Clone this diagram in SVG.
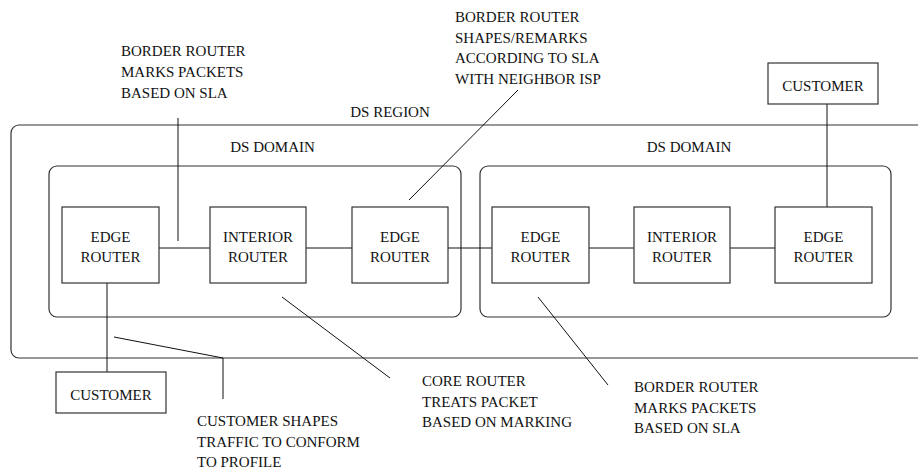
<svg xmlns="http://www.w3.org/2000/svg" width="918" height="470" viewBox="0 0 918 470" font-family="'Liberation Serif', 'Times New Roman', 'DejaVu Serif', serif">
<style>
  text { font-family: 'Liberation Serif', 'Times New Roman', 'DejaVu Serif', serif; font-size: 15px; fill: #111; }
  .c { text-anchor: middle; }
  .box { fill: #fff; stroke: #333; stroke-width: 1.2; }
  .region { fill: none; stroke: #333; stroke-width: 1.2; }
  .ln { fill: none; stroke: #111; stroke-width: 1; }
</style>
<rect width="918" height="470" fill="#fff"/>

<g id="ds-region">
  <rect class="region" x="11" y="125" width="930" height="233" rx="8" ry="8"/>
  <text class="c" x="390" y="117">DS REGION</text>
</g>
<g id="ds-domain-left">
  <rect class="region" x="49" y="166" width="412" height="151" rx="8" ry="8"/>
  <text class="c" x="272.5" y="152">DS DOMAIN</text>
</g>
<g id="ds-domain-right">
  <rect class="region" x="480" y="166" width="411" height="151" rx="8" ry="8"/>
  <text class="c" x="689" y="152">DS DOMAIN</text>
</g>

<g id="connectors">
  <line class="ln" x1="159" y1="248" x2="210" y2="248"/>
  <line class="ln" x1="306" y1="248" x2="352" y2="248"/>
  <line class="ln" x1="448" y1="248" x2="492" y2="248"/>
  <line class="ln" x1="589" y1="248" x2="634" y2="248"/>
  <line class="ln" x1="730" y1="248" x2="775" y2="248"/>
  <line class="ln" x1="827" y1="104" x2="827" y2="207"/>
  <line class="ln" x1="107" y1="283" x2="107" y2="372"/>
  <line class="ln" x1="178" y1="118" x2="178" y2="241"/>
  <line class="ln" x1="518" y1="90" x2="409" y2="200"/>
  <line class="ln" x1="282" y1="297" x2="390" y2="378"/>
  <line class="ln" x1="538" y1="297" x2="608" y2="385"/>
  <polyline class="ln" points="114,337 223,358 223,399"/>
</g>

<g id="edge-router-1">
  <rect class="box" x="62" y="207" width="97" height="76"/>
  <text class="c" x="110.5" y="242">EDGE</text>
  <text class="c" x="110.5" y="262">ROUTER</text>
</g>
<g id="interior-router-1">
  <rect class="box" x="210" y="207" width="96" height="76"/>
  <text class="c" x="258" y="242">INTERIOR</text>
  <text class="c" x="258" y="262">ROUTER</text>
</g>
<g id="edge-router-2">
  <rect class="box" x="352" y="207" width="96" height="76"/>
  <text class="c" x="400" y="242">EDGE</text>
  <text class="c" x="400" y="262">ROUTER</text>
</g>
<g id="edge-router-3">
  <rect class="box" x="492" y="207" width="97" height="76"/>
  <text class="c" x="540.5" y="242">EDGE</text>
  <text class="c" x="540.5" y="262">ROUTER</text>
</g>
<g id="interior-router-2">
  <rect class="box" x="634" y="207" width="96" height="76"/>
  <text class="c" x="682" y="242">INTERIOR</text>
  <text class="c" x="682" y="262">ROUTER</text>
</g>
<g id="edge-router-4">
  <rect class="box" x="775" y="207" width="97" height="76"/>
  <text class="c" x="823.5" y="242">EDGE</text>
  <text class="c" x="823.5" y="262">ROUTER</text>
</g>
<g id="customer-top">
  <rect class="box" x="768" y="63" width="110" height="41"/>
  <text class="c" x="823" y="91">CUSTOMER</text>
</g>
<g id="customer-bottom">
  <rect class="box" x="56" y="372" width="110" height="41"/>
  <text class="c" x="111" y="400">CUSTOMER</text>
</g>

<g id="label-border-left">
  <text x="121" y="56">BORDER ROUTER</text>
  <text x="121" y="77">MARKS PACKETS</text>
  <text x="121" y="97.5">BASED ON SLA</text>
</g>
<g id="label-border-neighbor">
  <text x="455" y="22">BORDER ROUTER</text>
  <text x="455" y="42.5">SHAPES/REMARKS</text>
  <text x="455" y="63">ACCORDING TO SLA</text>
  <text x="455" y="83.5">WITH NEIGHBOR ISP</text>
</g>
<g id="label-customer-shapes">
  <text x="197" y="426">CUSTOMER SHAPES</text>
  <text x="197" y="446.5">TRAFFIC TO CONFORM</text>
  <text x="197" y="467">TO PROFILE</text>
</g>
<g id="label-core">
  <text x="422" y="386">CORE ROUTER</text>
  <text x="422" y="406.5">TREATS PACKET</text>
  <text x="422" y="427">BASED ON MARKING</text>
</g>
<g id="label-border-right">
  <text x="634" y="392">BORDER ROUTER</text>
  <text x="634" y="413">MARKS PACKETS</text>
  <text x="634" y="433">BASED ON SLA</text>
</g>
</svg>
